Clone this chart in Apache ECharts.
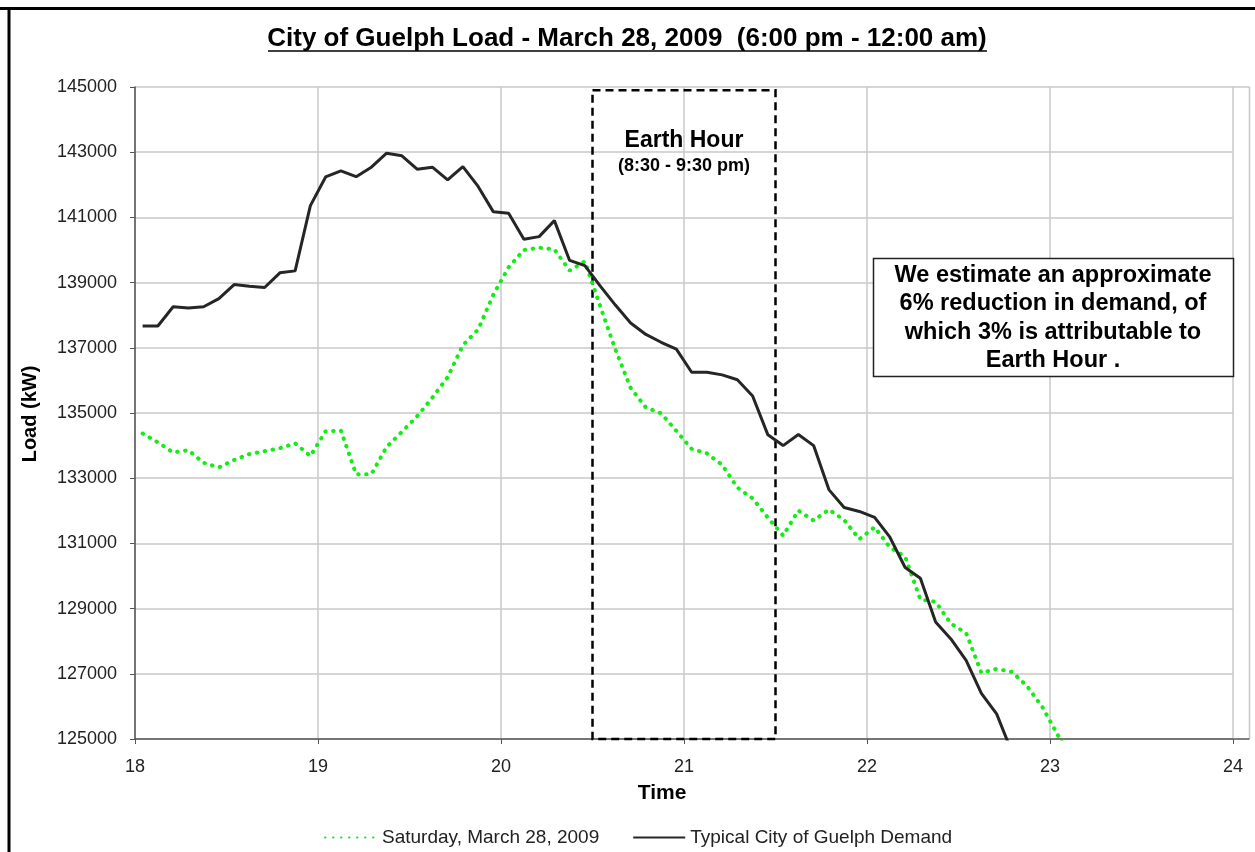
<!DOCTYPE html>
<html>
<head>
<meta charset="utf-8">
<script src="https://cdn.jsdelivr.net/npm/echarts@6/dist/echarts.min.js"></script>
</head>
<body style="margin:0; background:#fff">
<div id="container" style="width:1255px; height:852px"></div>
<script>
// 5-minute intervals, 6:00 pm - 11:05 pm
var times = [
    '18:00','18:05','18:10','18:15','18:20','18:25','18:30','18:35','18:40','18:45','18:50','18:55',
    '19:00','19:05','19:10','19:15','19:20','19:25','19:30','19:35','19:40','19:45','19:50','19:55',
    '20:00','20:05','20:10','20:15','20:20','20:25','20:30','20:35','20:40','20:45','20:50','20:55',
    '21:00','21:05','21:10','21:15','21:20','21:25','21:30','21:35','21:40','21:45','21:50','21:55',
    '22:00','22:05','22:10','22:15','22:20','22:25','22:30','22:35','22:40','22:45','22:50','22:55',
    '23:00','23:05'
];

// Saturday, March 28, 2009 (kW)
var saturday = [
    134370,134100,133790,133860,133470,133330,133560,133740,133830,133920,134070,133680,
    134440,134460,133120,133120,133960,134420,134900,135470,136100,137080,137560,138630,
    139470,140000,140070,140020,139370,139650,138280,136950,135770,135170,134990,134450,
    133900,133760,133410,132710,132380,131790,131240,132010,131700,132040,131720,131130,
    131500,130880,130590,129280,129210,128540,128250,127030,127150,127060,126620,125980,
    125130,124300
];

// Typical City of Guelph Demand (kW)
var typical = [
    137670,137670,138260,138220,138260,138510,138940,138890,138850,139300,139360,141360,
    142240,142430,142250,142540,142970,142890,142480,142540,142150,142560,141950,141170,
    141130,140330,140410,140900,139680,139520,138900,138310,137760,137410,137170,136960,
    136250,136250,136170,136020,135520,134330,134000,134340,134000,132650,132100,131980,
    131800,131190,130260,129930,128590,128070,127410,126400,125770,124600
];

var earthHour = [20.5, 21.5];

var note = ['We estimate an approximate', '6% reduction in demand, of', 'which 3% is attributable to', 'Earth Hour .'];

function toHour(t) {
    var p = t.split(':');
    return +p[0] + (+p[1] + 2.5) / 60;   // middle of the 5 min interval
}
function pairs(vals) {
    return vals.map(function (v, i) { return [toHour(times[i]), v]; });
}

var font = 'Liberation Sans, Arial, sans-serif';
var chart = echarts.init(document.getElementById('container'));

var option = {
    backgroundColor: '#fff',
    animation: false,
    grid: { left: 135, right: 22, top: 87, bottom: 113 },
    legend: {
        left: 319,
        top: 823,
        itemWidth: 52,
        itemHeight: 14,
        itemGap: 33,
        itemStyle: { opacity: 0 },
        textStyle: { fontFamily: font, fontSize: 19, color: '#222' },
        data: ['Saturday, March 28, 2009', 'Typical City of Guelph Demand']
    },
    xAxis: {
        type: 'value',
        min: 18, max: 24, interval: 1,
        axisLine: { lineStyle: { color: '#555', width: 1.5 } },
        axisTick: { show: true, length: 5, lineStyle: { color: '#555' } },
        axisLabel: { fontFamily: font, fontSize: 18, color: '#222', margin: 19 },
        splitLine: { show: true, lineStyle: { color: '#c8c8c8', width: 1.5 } }
    },
    yAxis: {
        type: 'value',
        min: 125000, max: 145000, interval: 2000,
        axisLine: { show: true, lineStyle: { color: '#555', width: 1.5 } },
        axisTick: { show: true, length: 5, lineStyle: { color: '#555' } },
        axisLabel: {
            fontFamily: font, fontSize: 18, color: '#222', margin: 18,
            formatter: function (v) { return String(v); }
        },
        splitLine: { show: true, lineStyle: { color: '#c8c8c8', width: 1.5 } }
    },
    series: [
        {
            name: 'Saturday, March 28, 2009',
            type: 'line',
            symbol: 'none',
            data: pairs(saturday),
            lineStyle: { color: '#11ee11', width: 4, type: [0.5, 7.5], cap: 'round' },
            itemStyle: { color: '#11ee11' },
            z: 3
        },
        {
            name: 'Typical City of Guelph Demand',
            type: 'line',
            symbol: 'none',
            data: pairs(typical),
            lineStyle: { color: '#262626', width: 3 },
            itemStyle: { color: '#262626' },
            z: 4,
            markArea: {
                silent: true,
                itemStyle: {
                    color: 'rgba(0,0,0,0)',
                    borderColor: '#000',
                    borderWidth: 2.5,
                    borderType: [8, 5]
                },
                label: {
                    show: true,
                    position: ['50%', 38],
                    align: 'center',
                    formatter: '{a|Earth Hour}\n{b|(8:30 - 9:30 pm)}',
                    rich: {
                        a: { fontFamily: font, fontSize: 23, fontWeight: 'bold', color: '#000', lineHeight: 28 },
                        b: { fontFamily: font, fontSize: 18, fontWeight: 'bold', color: '#000', lineHeight: 22 }
                    }
                },
                data: [[{ xAxis: earthHour[0], yAxis: 144900 }, { xAxis: earthHour[1], yAxis: 125000 }]]
            }
        }
    ],
    graphic: [
        // outer frame
        { type: 'line', shape: { x1: 0, y1: 8.5, x2: 1255, y2: 8.5 }, style: { stroke: '#000', lineWidth: 3 } },
        { type: 'line', shape: { x1: 9, y1: 7, x2: 9, y2: 852 }, style: { stroke: '#000', lineWidth: 3 } },
        // plot area right edge
        { type: 'line', shape: { x1: 1249.5, y1: 87, x2: 1249.5, y2: 739 }, style: { stroke: '#c8c8c8', lineWidth: 1.5 } },
        { type: 'line', shape: { x1: 1233, y1: 739, x2: 1249.5, y2: 739 }, style: { stroke: '#555', lineWidth: 1.5 } },
        { type: 'line', shape: { x1: 1233, y1: 87, x2: 1249.5, y2: 87 }, style: { stroke: '#c8c8c8', lineWidth: 1.5 } },
        // title
        { type: 'text', x: 627, y: 39, style: { text: 'City of Guelph Load - March 28, 2009  (6:00 pm - 12:00 am)', font: 'bold 26px ' + font, fill: '#000', align: 'center', verticalAlign: 'middle' } },
        { type: 'line', shape: { x1: 268, y1: 51, x2: 987, y2: 51 }, style: { stroke: '#000', lineWidth: 1.5 } },
        // axis names
        { type: 'text', x: 662, y: 793, style: { text: 'Time', font: 'bold 21px ' + font, fill: '#000', align: 'center', verticalAlign: 'middle' } },
        { type: 'text', x: 30, y: 414, rotation: Math.PI / 2, style: { text: 'Load (kW)', font: 'bold 20px ' + font, fill: '#000', align: 'center', verticalAlign: 'middle' } },
        // annotation box
        { type: 'rect', shape: { x: 873.5, y: 258.5, width: 360, height: 118 }, style: { fill: '#fff', stroke: '#222', lineWidth: 1.5 }, z: 10 },
        { type: 'text', x: 1053, y: 318, z: 11, style: { text: note.join('\n'), font: 'bold 23.5px ' + font, lineHeight: 28.5, fill: '#000', align: 'center', verticalAlign: 'middle' } }
    ]
};

chart.setOption(option);
</script>
</body>
</html>
